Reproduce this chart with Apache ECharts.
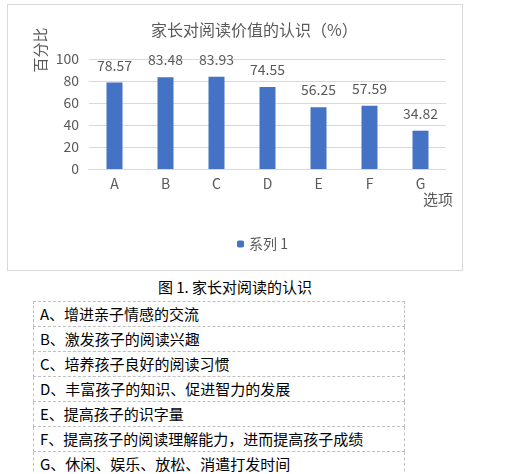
<!DOCTYPE html>
<html>
<head>
    <meta charset="utf-8">
    <title>家长对阅读价值的认识</title>
    <script src="https://cdn.jsdelivr.net/npm/echarts@6/dist/echarts.min.js"></script>
    <style>
        html, body {
            width: 512px;
            height: 474px;
            margin: 0;
            background: #fff;
            overflow: hidden;
            font-family: "Noto Sans CJK SC", sans-serif;
        }
        #main {
            position: absolute;
            left: 7px;
            top: 4px;
            width: 454px;
            height: 265px;
            border: 1px solid #d9d9d9;
        }
        #caption {
            position: absolute;
            left: 0;
            top: 276px;
            width: 470px;
            text-align: center;
            font-size: 15px;
            line-height: 22px;
            color: #000;
        }
        #legendTable {
            position: absolute;
            left: 33px;
            top: 301px;
            width: 372px;
            border-collapse: collapse;
        }
        #legendTable td {
            border: 1px dashed #bfbfbf;
            height: 24px;
            padding: 0 0 0 6px;
            font-size: 15px;
            line-height: 24px;
            color: #000;
            white-space: nowrap;
        }
    </style>
</head>
<body>
    <div id="main"></div>
    <div id="caption">图 1. 家长对阅读的认识</div>
    <table id="legendTable"></table>
    <script type="text/javascript">
        // 数据
        var categories = ['A', 'B', 'C', 'D', 'E', 'F', 'G'];
        var values = [78.57, 83.48, 83.93, 74.55, 56.25, 57.59, 34.82];
        var options = [
            '增进亲子情感的交流',
            '激发孩子的阅读兴趣',
            '培养孩子良好的阅读习惯',
            '丰富孩子的知识、促进智力的发展',
            '提高孩子的识字量',
            '提高孩子的阅读理解能力，进而提高孩子成绩',
            '休闲、娱乐、放松、消遣打发时间'
        ];

        var table = document.getElementById('legendTable');
        for (var i = 0; i < categories.length; i++) {
            var tr = document.createElement('tr');
            var td = document.createElement('td');
            td.textContent = categories[i] + '、' + options[i];
            tr.appendChild(td);
            table.appendChild(tr);
        }

        var myChart = echarts.init(document.getElementById('main'));
        var grey = '#595959';
        var option = {
            animation: false,
            textStyle: { fontFamily: '"Noto Sans CJK SC", sans-serif' },
            title: {
                text: '家长对阅读价值的认识（%）',
                left: 138,
                top: 12,
                textStyle: { color: grey, fontSize: 16, fontWeight: 'normal' }
            },
            legend: {
                left: 224,
                top: 227,
                itemWidth: 7,
                itemHeight: 7,
                itemGap: 4,
                textStyle: { color: grey, fontSize: 14 },
                data: ['系列 1']
            },
            grid: {
                left: 81,
                right: 16,
                top: 54,
                bottom: 101
            },
            xAxis: {
                type: 'category',
                data: categories,
                name: '选项',
                nameLocation: 'end',
                nameGap: 7,
                nameTextStyle: {
                    color: grey,
                    fontSize: 15,
                    align: 'right',
                    verticalAlign: 'top',
                    padding: [23, 0, 0, 0]
                },
                axisLine: { lineStyle: { color: '#d9d9d9' } },
                axisTick: { show: false },
                axisLabel: { color: grey, fontSize: 14, margin: 8 }
            },
            yAxis: {
                type: 'value',
                min: 0,
                max: 100,
                interval: 20,
                axisLine: { show: false },
                axisTick: { show: false },
                axisLabel: { color: grey, fontSize: 14, margin: 10 },
                splitLine: { lineStyle: { color: '#d9d9d9' } }
            },
            graphic: [{
                type: 'text',
                x: 32,
                y: 45,
                rotation: Math.PI / 2,
                style: {
                    text: '百分比',
                    fill: grey,
                    fontSize: 15,
                    fontFamily: '"Noto Sans CJK SC", sans-serif',
                    align: 'center',
                    verticalAlign: 'middle'
                }
            }],
            series: [{
                name: '系列 1',
                type: 'bar',
                data: values,
                barWidth: 16,
                itemStyle: { color: '#4472c4' },
                label: {
                    show: true,
                    position: 'top',
                    distance: 10,
                    color: grey,
                    fontSize: 14
                }
            }]
        };
        myChart.setOption(option);
    </script>
</body>
</html>
